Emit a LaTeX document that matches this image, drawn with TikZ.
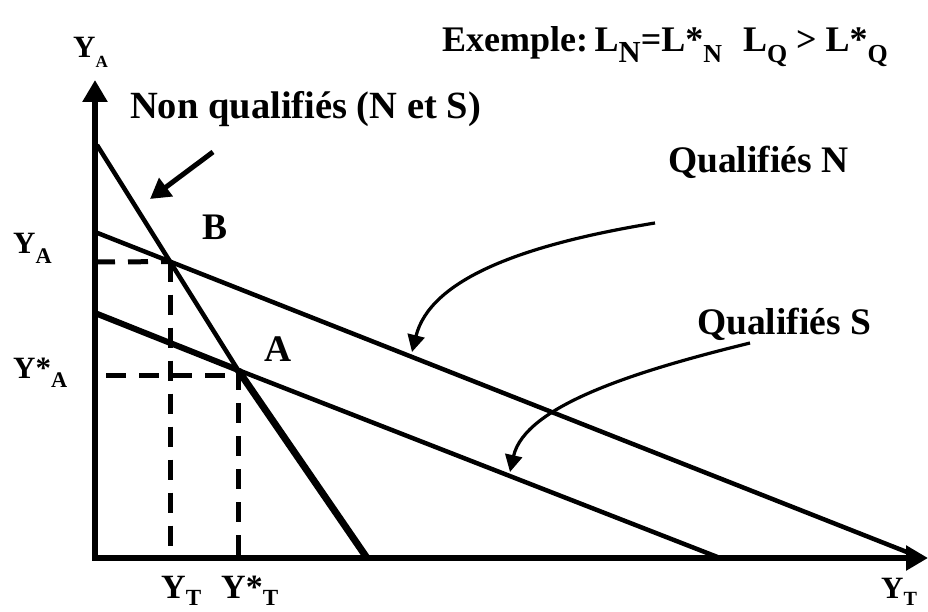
\documentclass[tikz,border=0pt]{standalone}
\usepackage{fontspec}
\usepackage{graphicx}
\setmainfont{Liberation Serif}
\usetikzlibrary{arrows.meta,calc}
\newcommand{\sbx}[2][0.72]{\raisebox{-0.28em}{\scalebox{#1}{#2}}}
\begin{document}
\begin{tikzpicture}[x=1pt,y=-1pt,
  axis/.style={line width=6pt,-{Triangle[length=22pt,width=24pt]}},
  budget/.style={line width=4.5pt},
  thickseg/.style={line width=7pt},
  guide/.style={line width=5pt,dash pattern=on 20pt off 13pt},
  curvearrow/.style={line width=3.2pt,-{Triangle[length=17pt,width=17pt]}},
  straightarrow/.style={line width=5pt,-{Triangle[length=20pt,width=22pt]}},
  lbl/.style={font=\bfseries\fontsize{37.5}{40}\selectfont,inner sep=0pt},
  axlbl/.style={font=\bfseries\fontsize{31}{34}\selectfont,inner sep=0pt}]
\useasboundingbox (0,0) rectangle (928,612);
% key points
\coordinate (O) at (95,558);
\coordinate (Ytop) at (95,80);
\coordinate (Xend) at (928,558);
\coordinate (nq1) at (97,145);
\coordinate (A) at (238,370);
\coordinate (nq2) at (367,558);
\coordinate (n1) at (95,232);
\coordinate (n2) at (922,558);
\coordinate (s1) at (95,313);
\coordinate (s2) at (720,558);
\coordinate (B) at (intersection of nq1--A and n1--n2);
% guides
\draw[guide] (95,262) -- (B);
\draw[guide] (B) -- (B |- O);
\draw[guide,dash phase=-6pt] (100,375) -- (243,375);
\draw[guide] (A) -- (A |- O);
% lines
\draw[budget] (nq1) -- (A);
\draw[thickseg] (A) -- (nq2);
\draw[budget] (n1) -- (n2);
\draw[budget] (A) -- (s2);
\draw[line width=6pt] (s1) -- (A);
% axes
\draw[axis,line cap=rect] (O) -- (Ytop);
\draw[axis] (O) -- (Xend);
% labels
\node[lbl,font=\bfseries\fontsize{36}{40}\selectfont,anchor=base west] (ex) at (442,52)
  {Exemple:\hspace{0.18em}L\sbx[0.85]{N}=L*\sbx{N}\,\, L\sbx{Q} > L*\sbx{Q}};
\node[lbl,font=\bfseries\fontsize{38.5}{42}\selectfont,anchor=base west] (nqlbl) at (130,119) {Non qualifiés (N et S)};
\node[lbl,anchor=base west] (qn) at (668,173) {Qualifiés N};
\node[lbl,anchor=base west] (qs) at (697,334) {Qualifiés S};
\node[lbl,anchor=base west] (blbl) at (202,240) {B};
\node[lbl,anchor=base west] (albl) at (264,361) {A};
\node[axlbl,anchor=base west] (ya1) at (73,58) {Y\raisebox{-0.3em}{\scalebox{0.55}{A}}};
\node[axlbl,anchor=base west] (ya2) at (13,254) {Y\raisebox{-0.3em}{\scalebox{0.72}{A}}};
\node[axlbl,anchor=base west] (ya3) at (13,378) {Y*\raisebox{-0.3em}{\scalebox{0.72}{A}}};
\node[axlbl,font=\bfseries\fontsize{34}{36}\selectfont,anchor=base west] (yt1) at (161,598) {Y\raisebox{-0.22em}{\scalebox{0.68}{T}}};
\node[axlbl,font=\bfseries\fontsize{34}{36}\selectfont,anchor=base west] (yt2) at (221,598) {Y*\raisebox{-0.22em}{\scalebox{0.68}{T}}};
\node[axlbl,anchor=base west] (yt3) at (881,598) {Y\raisebox{-0.25em}{\scalebox{0.65}{T}}};
% pointer arrows
\coordinate (p1) at (213,152);
\coordinate (t1) at (150,199);
\draw[straightarrow] (p1) -- (t1);
\coordinate (p2) at (655,223);
\coordinate (t2) at (412,352);
\draw[curvearrow] (p2) .. controls (520,245) and (430,280) .. (t2);
\coordinate (p3) at (750,343);
\coordinate (t3) at (510,472);
\draw[curvearrow] (p3) .. controls (640,370) and (525,405) .. (t3);
\end{tikzpicture}
\end{document}
